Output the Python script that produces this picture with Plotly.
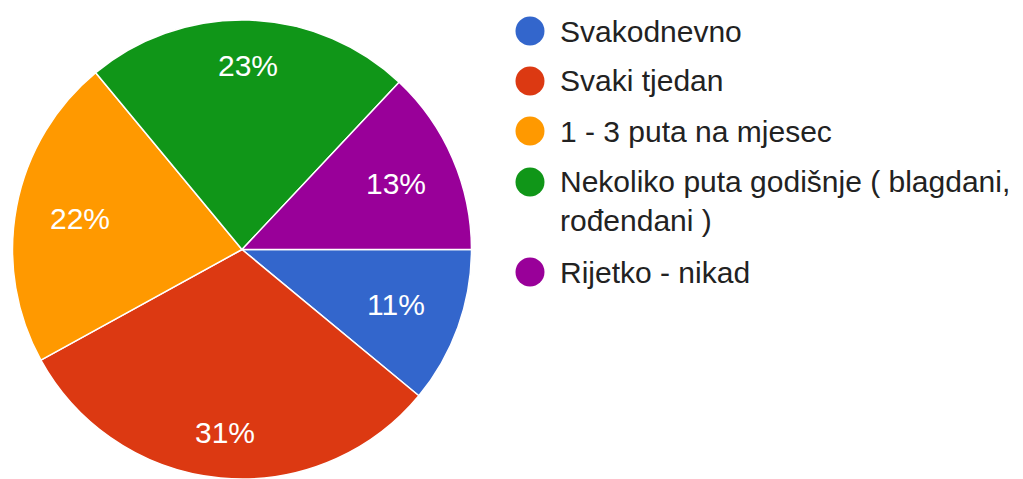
import math
import plotly.graph_objects as go

# Survey answers: how often
categories = [
    "Svakodnevno",
    "Svaki tjedan",
    "1 - 3 puta na mjesec",
    "Nekoliko puta godišnje ( blagdani, rođendani )",
    "Rijetko - nikad",
]
shares = [11, 31, 22, 23, 13]
colors = ["#3366cc", "#dc3912", "#ff9900", "#109618", "#990099"]

# wrapped legend text for long labels
legend_text = {
    "Nekoliko puta godišnje ( blagdani, rođendani )":
        "Nekoliko puta godišnje ( blagdani,<br>rođendani )",
}

W, H = 1023, 479
FONT = "Arial, Liberation Sans, sans-serif"

# pie placement (pixels): domain box on the left of the figure
dom_w, dom_h = 484, 459
radius = min(dom_w, dom_h) / 2
cx, cy = dom_w / 2, H - dom_h / 2

fig = go.Figure(
    go.Pie(
        labels=categories,
        values=shares,
        sort=False,
        direction="clockwise",
        rotation=90,
        marker=dict(colors=colors, line=dict(color="white", width=1.5)),
        textinfo="none",
        domain=dict(x=[0, dom_w / W], y=[0, dom_h / H]),
        showlegend=False,
        hoverinfo="label+percent",
    )
)

annotations = []

# percentage labels: the label box's outer edge sits at 0.85 r on the slice bisector
total = sum(shares)
half_w, half_h = 30, 11
start = 0.0
for v in shares:
    frac = v / total
    mid = (start + frac / 2) * 2 * math.pi  # clockwise from 3 o'clock
    start += frac
    c, s = math.cos(mid), math.sin(mid)
    edge = min(half_w / abs(c) if abs(c) > 1e-9 else 1e9,
               half_h / abs(s) if abs(s) > 1e-9 else 1e9)
    d = 0.85 * radius - edge
    px, py = cx + d * c, cy + d * s
    annotations.append(dict(
        text=f"{round(frac * 100)}%", xref="paper", yref="paper",
        x=px / W, y=1 - py / H, xanchor="center", yanchor="middle",
        showarrow=False, font=dict(family=FONT, size=30, color="white"),
    ))

# legend: coloured dots with labels beside them
dot_x = 530
text_x = 558
rows_y = [31, 81, 131, 182, 272]
shapes = []
for name, col, y in zip(categories, colors, rows_y):
    shapes.append(dict(
        type="circle", xref="paper", yref="paper",
        xsizemode="pixel", ysizemode="pixel",
        xanchor=dot_x / W, yanchor=1 - y / H,
        x0=-14.5, x1=14.5, y0=-14.5, y1=14.5,
        fillcolor=col, line=dict(width=0),
    ))
    txt = legend_text.get(name, name)
    multi = "<br>" in txt
    annotations.append(dict(
        text=txt, xref="paper", yref="paper",
        x=text_x / W, y=1 - (y - 19) / H if multi else 1 - y / H,
        xanchor="left", yanchor="top" if multi else "middle",
        align="left", showarrow=False,
        font=dict(family=FONT, size=30, color="#222222"),
    ))

fig.update_layout(
    width=W, height=H,
    margin=dict(l=0, r=0, t=0, b=0),
    paper_bgcolor="white",
    plot_bgcolor="white",
    shapes=shapes,
    annotations=annotations,
)

fig.write_html("out.html")
